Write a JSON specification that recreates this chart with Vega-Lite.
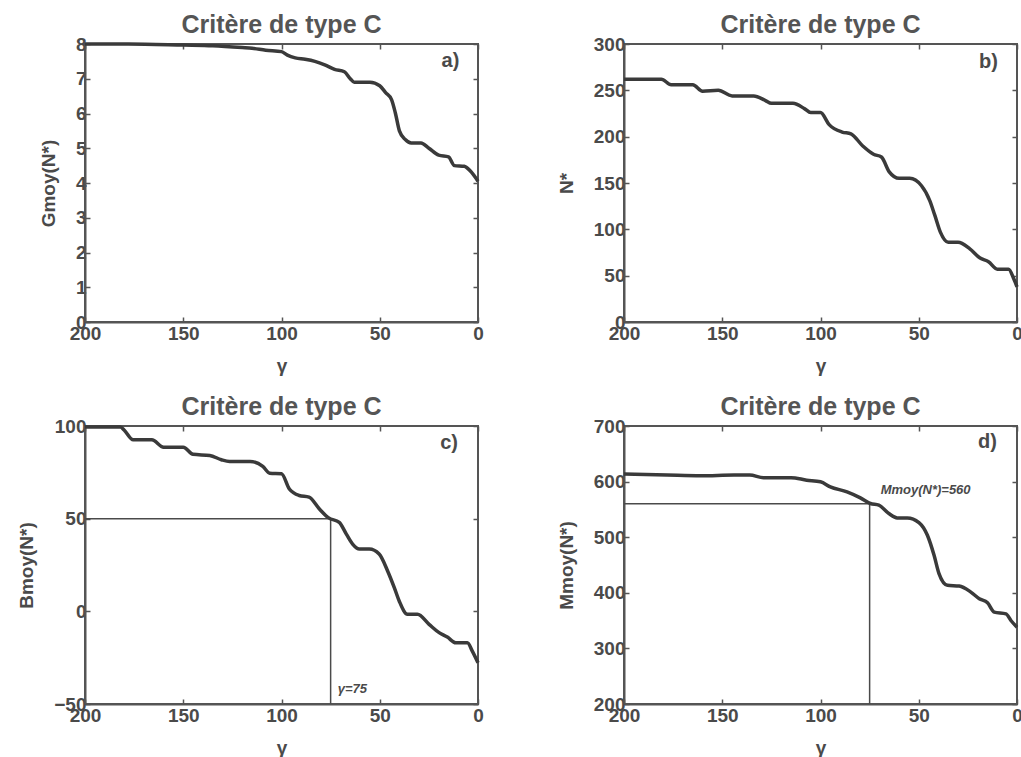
{
  "$schema": "https://vega.github.io/schema/vega-lite/v6.json",
  "background": "white",
  "padding": {"left": 16, "top": 12, "right": 0, "bottom": 0},
  "config": {
    "font": "Liberation Sans",
    "view": {"stroke": "#555555", "strokeWidth": 2},
    "title": {"font": "Liberation Sans", "fontSize": 25, "fontWeight": "bold", "color": "#555555", "offset": -3},
    "axis": {
      "labelFont": "Liberation Sans", "labelFontWeight": "bold", "labelFontSize": 19, "labelColor": "#4a4a4a",
      "titleFont": "Liberation Sans", "titleFontWeight": "bold", "titleFontSize": 19, "titleColor": "#4a4a4a",
      "domainColor": "#555555", "domainWidth": 2, "tickColor": "#555555", "tickSize": -5, "tickWidth": 1.5,
      "grid": false, "labelFlush": false, "labelPadding": 4
    },
    "axisX": {"labelPadding": 7, "titlePadding": 13},
    "axisY": {"titlePadding": 17},
    "text": {"font": "Liberation Sans"}
  },
  "datasets": {
    "a": [
      {"g": 200, "v": 8.0}, {"g": 178, "v": 8.0}, {"g": 150, "v": 7.97}, {"g": 135, "v": 7.95},
      {"g": 120, "v": 7.9}, {"g": 115, "v": 7.88}, {"g": 108, "v": 7.82}, {"g": 100, "v": 7.78},
      {"g": 97, "v": 7.68}, {"g": 93, "v": 7.6}, {"g": 88, "v": 7.56}, {"g": 83, "v": 7.5},
      {"g": 78, "v": 7.4}, {"g": 73, "v": 7.27}, {"g": 68, "v": 7.2}, {"g": 65, "v": 7.0},
      {"g": 63, "v": 6.9}, {"g": 55, "v": 6.9}, {"g": 50, "v": 6.8}, {"g": 47, "v": 6.6},
      {"g": 44, "v": 6.4}, {"g": 42, "v": 6.0}, {"g": 40, "v": 5.5}, {"g": 37, "v": 5.25},
      {"g": 34, "v": 5.15}, {"g": 29, "v": 5.15}, {"g": 25, "v": 5.0}, {"g": 20, "v": 4.8},
      {"g": 15, "v": 4.75}, {"g": 12, "v": 4.5}, {"g": 7, "v": 4.48}, {"g": 4, "v": 4.35},
      {"g": 0, "v": 4.05}
    ],
    "b": [
      {"g": 200, "v": 262}, {"g": 181, "v": 262}, {"g": 176, "v": 256}, {"g": 165, "v": 256},
      {"g": 160, "v": 249}, {"g": 152, "v": 250}, {"g": 145, "v": 244}, {"g": 134, "v": 244},
      {"g": 128, "v": 239}, {"g": 125, "v": 236}, {"g": 114, "v": 236}, {"g": 108, "v": 230},
      {"g": 105, "v": 226}, {"g": 100, "v": 226}, {"g": 95.6, "v": 213}, {"g": 89, "v": 205},
      {"g": 84.5, "v": 203}, {"g": 78.5, "v": 190}, {"g": 73, "v": 181}, {"g": 69, "v": 178},
      {"g": 65, "v": 162}, {"g": 60, "v": 155}, {"g": 54.6, "v": 155}, {"g": 48.6, "v": 147},
      {"g": 44.4, "v": 131}, {"g": 41.8, "v": 115}, {"g": 39, "v": 97}, {"g": 35, "v": 86},
      {"g": 30, "v": 86}, {"g": 24, "v": 79}, {"g": 18.8, "v": 69}, {"g": 14.5, "v": 65},
      {"g": 10, "v": 57}, {"g": 4.3, "v": 57}, {"g": 1.7, "v": 47}, {"g": 0, "v": 38}
    ],
    "c": [
      {"g": 200, "v": 99.5}, {"g": 182, "v": 99.5}, {"g": 180, "v": 97.7}, {"g": 175.5, "v": 92.6},
      {"g": 166, "v": 92.6}, {"g": 160, "v": 88.6}, {"g": 150, "v": 88.6}, {"g": 145, "v": 84.7},
      {"g": 136.5, "v": 84.1}, {"g": 130.6, "v": 81.8}, {"g": 126.4, "v": 80.9}, {"g": 116, "v": 80.9},
      {"g": 109.5, "v": 78.2}, {"g": 106, "v": 74.5}, {"g": 100, "v": 74.2}, {"g": 96, "v": 66},
      {"g": 91, "v": 62.5}, {"g": 86, "v": 61.6}, {"g": 80.7, "v": 55.2}, {"g": 76, "v": 50.4},
      {"g": 70.6, "v": 48}, {"g": 67, "v": 41.7}, {"g": 63.8, "v": 36.3}, {"g": 60.4, "v": 33.6},
      {"g": 55.3, "v": 33.6}, {"g": 50.3, "v": 30.9}, {"g": 46, "v": 21.8}, {"g": 42.6, "v": 12.8},
      {"g": 40.1, "v": 5.6}, {"g": 35.9, "v": -1.6}, {"g": 30.8, "v": -1.6}, {"g": 24.9, "v": -7},
      {"g": 19.8, "v": -11.5}, {"g": 15.6, "v": -13.9}, {"g": 11.3, "v": -17}, {"g": 5.4, "v": -17},
      {"g": 2.9, "v": -21.5}, {"g": 0, "v": -27.8}
    ],
    "d": [
      {"g": 200, "v": 613.5}, {"g": 178, "v": 611.7}, {"g": 161, "v": 610.5}, {"g": 144, "v": 611.7},
      {"g": 136, "v": 611.7}, {"g": 129, "v": 607}, {"g": 115, "v": 607}, {"g": 107, "v": 602.6},
      {"g": 100, "v": 599.6}, {"g": 95, "v": 590.6}, {"g": 86.5, "v": 581.6}, {"g": 79.7, "v": 570.8},
      {"g": 74.6, "v": 560.6}, {"g": 70.3, "v": 557.6}, {"g": 65.2, "v": 542.5}, {"g": 61, "v": 534.7},
      {"g": 55.8, "v": 534.7}, {"g": 49.9, "v": 526.3}, {"g": 45.6, "v": 503.5}, {"g": 42.2, "v": 467.4},
      {"g": 39.7, "v": 434.4}, {"g": 35.4, "v": 413.4}, {"g": 29.4, "v": 412.1}, {"g": 23.5, "v": 401.3},
      {"g": 19.2, "v": 389.3}, {"g": 15, "v": 382.1}, {"g": 11.6, "v": 365.3}, {"g": 5.6, "v": 362.2},
      {"g": 3.1, "v": 350.2}, {"g": 0, "v": 338.2}
    ]
  },
  "columns": 2,
  "bounds": "flush",
  "spacing": {"column": 146, "row": 104},
  "concat": [
    {
      "title": "Critère de type C",
      "width": 393, "height": 278,
      "resolve": {"axis": {"x": "independent", "y": "independent"}},
      "layer": [
        {
          "data": {"name": "a"},
          "mark": {"type": "line", "color": "#3a3a3a", "strokeWidth": 3.5, "interpolate": "monotone"},
          "encoding": {
            "x": {"field": "g", "type": "quantitative", "scale": {"domain": [200, 0], "nice": false}, "axis": {"values": [200, 150, 100, 50, 0], "title": "γ"}},
            "y": {"field": "v", "type": "quantitative", "scale": {"domain": [0, 8], "nice": false}, "axis": {"values": [0, 1, 2, 3, 4, 5, 6, 7, 8], "title": "Gmoy(N*)"}}
          }
        },
        {
          "data": {"values": [{"g": 14, "v": 7.5, "t": "a)"}]},
          "mark": {"type": "text", "fontSize": 20, "fontWeight": "bold", "color": "#4a4a4a"},
          "encoding": {
            "x": {"field": "g", "type": "quantitative", "axis": {"orient": "top", "labels": false, "title": null, "domain": false, "values": [200, 150, 100, 50, 0]}},
            "y": {"field": "v", "type": "quantitative", "axis": {"orient": "right", "labels": false, "title": null, "domain": false, "values": [0, 1, 2, 3, 4, 5, 6, 7, 8]}},
            "text": {"field": "t"}
          }
        }
      ]
    },
    {
      "title": "Critère de type C",
      "width": 393, "height": 278,
      "resolve": {"axis": {"x": "independent", "y": "independent"}},
      "layer": [
        {
          "data": {"name": "b"},
          "mark": {"type": "line", "color": "#3a3a3a", "strokeWidth": 3.5, "interpolate": "monotone"},
          "encoding": {
            "x": {"field": "g", "type": "quantitative", "scale": {"domain": [200, 0], "nice": false}, "axis": {"values": [200, 150, 100, 50, 0], "title": "γ"}},
            "y": {"field": "v", "type": "quantitative", "scale": {"domain": [0, 300], "nice": false}, "axis": {"values": [0, 50, 100, 150, 200, 250, 300], "title": "N*"}}
          }
        },
        {
          "data": {"values": [{"g": 14.5, "v": 281, "t": "b)"}]},
          "mark": {"type": "text", "fontSize": 20, "fontWeight": "bold", "color": "#4a4a4a"},
          "encoding": {
            "x": {"field": "g", "type": "quantitative", "axis": {"orient": "top", "labels": false, "title": null, "domain": false, "values": [200, 150, 100, 50, 0]}},
            "y": {"field": "v", "type": "quantitative", "axis": {"orient": "right", "labels": false, "title": null, "domain": false, "values": [0, 50, 100, 150, 200, 250, 300]}},
            "text": {"field": "t"}
          }
        }
      ]
    },
    {
      "title": "Critère de type C",
      "width": 393, "height": 278,
      "resolve": {"axis": {"x": "independent", "y": "independent"}},
      "layer": [
        {
          "data": {"values": [{"x1": 200, "x2": 75, "y1": 50, "y2": 50}, {"x1": 75, "x2": 75, "y1": -50, "y2": 50}]},
          "mark": {"type": "rule", "color": "#4a4a4a", "strokeWidth": 1.5},
          "encoding": {
            "x": {"field": "x1", "type": "quantitative", "scale": {"domain": [200, 0], "nice": false}, "axis": {"values": [200, 150, 100, 50, 0], "title": "γ"}},
            "x2": {"field": "x2"},
            "y": {"field": "y1", "type": "quantitative", "scale": {"domain": [-50, 100], "nice": false}, "axis": {"values": [-50, 0, 50, 100], "title": "Bmoy(N*)"}},
            "y2": {"field": "y2"}
          }
        },
        {
          "data": {"name": "c"},
          "mark": {"type": "line", "color": "#3a3a3a", "strokeWidth": 3.5, "interpolate": "monotone"},
          "encoding": {
            "x": {"field": "g", "type": "quantitative", "axis": null},
            "y": {"field": "v", "type": "quantitative", "axis": null}
          }
        },
        {
          "data": {"values": [{"g": 71.4, "v": -42, "t": "γ=75"}]},
          "mark": {"type": "text", "fontSize": 13, "fontStyle": "italic", "fontWeight": "bold", "align": "left", "color": "#4a4a4a"},
          "encoding": {
            "x": {"field": "g", "type": "quantitative", "axis": null},
            "y": {"field": "v", "type": "quantitative", "axis": null},
            "text": {"field": "t"}
          }
        },
        {
          "data": {"values": [{"g": 14.7, "v": 91, "t": "c)"}]},
          "mark": {"type": "text", "fontSize": 20, "fontWeight": "bold", "color": "#4a4a4a"},
          "encoding": {
            "x": {"field": "g", "type": "quantitative", "axis": {"orient": "top", "labels": false, "title": null, "domain": false, "values": [200, 150, 100, 50, 0]}},
            "y": {"field": "v", "type": "quantitative", "axis": {"orient": "right", "labels": false, "title": null, "domain": false, "values": [-50, 0, 50, 100]}},
            "text": {"field": "t"}
          }
        }
      ]
    },
    {
      "title": "Critère de type C",
      "width": 393, "height": 278,
      "resolve": {"axis": {"x": "independent", "y": "independent"}},
      "layer": [
        {
          "data": {"values": [{"x1": 200, "x2": 75, "y1": 560, "y2": 560}, {"x1": 75, "x2": 75, "y1": 200, "y2": 560}]},
          "mark": {"type": "rule", "color": "#4a4a4a", "strokeWidth": 1.5},
          "encoding": {
            "x": {"field": "x1", "type": "quantitative", "scale": {"domain": [200, 0], "nice": false}, "axis": {"values": [200, 150, 100, 50, 0], "title": "γ"}},
            "x2": {"field": "x2"},
            "y": {"field": "y1", "type": "quantitative", "scale": {"domain": [200, 700], "nice": false}, "axis": {"values": [200, 300, 400, 500, 600, 700], "title": "Mmoy(N*)"}},
            "y2": {"field": "y2"}
          }
        },
        {
          "data": {"name": "d"},
          "mark": {"type": "line", "color": "#3a3a3a", "strokeWidth": 3.5, "interpolate": "monotone"},
          "encoding": {
            "x": {"field": "g", "type": "quantitative", "axis": null},
            "y": {"field": "v", "type": "quantitative", "axis": null}
          }
        },
        {
          "data": {"values": [{"g": 69.4, "v": 585, "t": "Mmoy(N*)=560"}]},
          "mark": {"type": "text", "fontSize": 13, "fontStyle": "italic", "fontWeight": "bold", "align": "left", "color": "#4a4a4a"},
          "encoding": {
            "x": {"field": "g", "type": "quantitative", "axis": null},
            "y": {"field": "v", "type": "quantitative", "axis": null},
            "text": {"field": "t"}
          }
        },
        {
          "data": {"values": [{"g": 15, "v": 672, "t": "d)"}]},
          "mark": {"type": "text", "fontSize": 20, "fontWeight": "bold", "color": "#4a4a4a"},
          "encoding": {
            "x": {"field": "g", "type": "quantitative", "axis": {"orient": "top", "labels": false, "title": null, "domain": false, "values": [200, 150, 100, 50, 0]}},
            "y": {"field": "v", "type": "quantitative", "axis": {"orient": "right", "labels": false, "title": null, "domain": false, "values": [200, 300, 400, 500, 600, 700]}},
            "text": {"field": "t"}
          }
        }
      ]
    }
  ]
}
